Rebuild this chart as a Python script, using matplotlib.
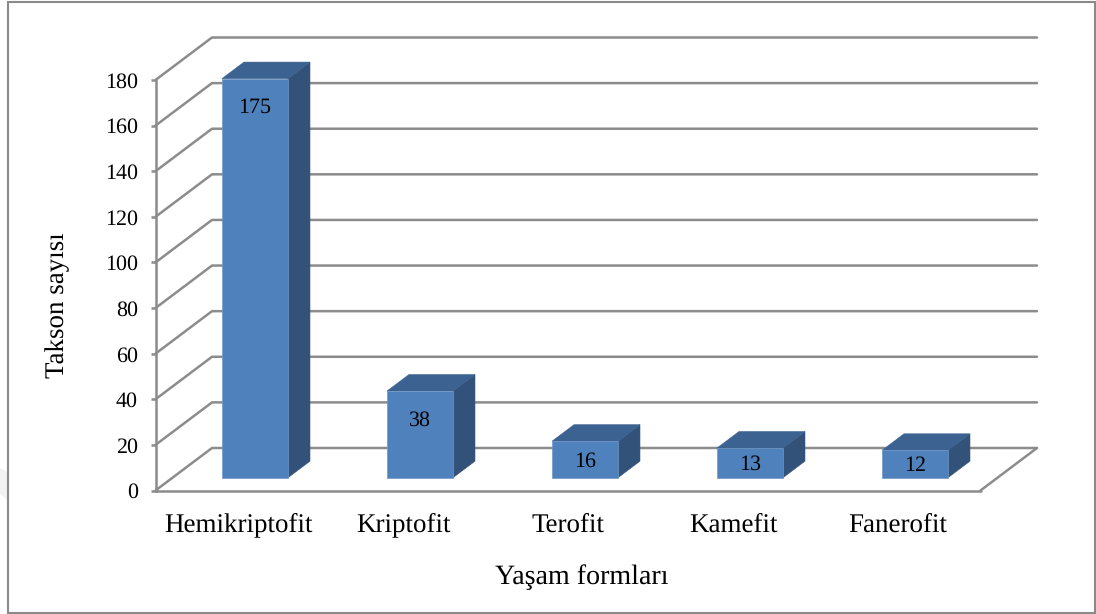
import matplotlib
matplotlib.use("Agg")
import matplotlib.pyplot as plt
from matplotlib.patches import Polygon, Rectangle

categories = ["Hemikriptofit", "Kriptofit", "Terofit", "Kamefit", "Fanerofit"]
values = [175, 38, 16, 13, 12]
y_ticks = [0, 20, 40, 60, 80, 100, 120, 140, 160, 180]
y_label = "Takson sayısı"
x_label = "Yaşam formları"

W, H = 1096, 614
FRONT, TOP, SIDE = "#4F81BD", "#3B6290", "#33527A"
EDGE = "#6F97C6"
GRID = "#8C8C8C"
plt.rcParams["font.family"] = ["Liberation Serif", "DejaVu Serif"]
plt.rcParams["text.hinting"] = "no_hinting"
plt.rcParams["text.hinting_factor"] = 1

fig = plt.figure(figsize=(W / 100, H / 100), dpi=100, facecolor="white")
# faint smudge outside the frame at the left edge of the scan
fig.add_artist(Polygon([(0, 1 - 468 / H), (7 / W, 1 - 472 / H), (7 / W, 1 - 500 / H), (0, 1 - 494 / H)],
                       transform=fig.transFigure, fc="#F2F2F2", ec="none"))
fig.add_artist(Rectangle((8 / W, 1 - 612.5 / H), (1095 - 8) / W, (612.5 - 1.5) / H, transform=fig.transFigure,
                         fill=False, ec="#8A8A8A", lw=1.5))

x0, x1, y0, y1 = 155.5, 980.5, 490.5, 80
ax = fig.add_axes([x0 / W, 1 - y0 / H, (x1 - x0) / W, (y0 - y1) / H])
ax.patch.set_alpha(0)
ax.set_xlim(-0.5, len(categories) - 0.5)
ax.set_ylim(0, 180)

# depth of the 3-D box expressed in axis units
px_x = (x1 - x0) / len(categories)
px_y = (y0 - y1) / 180
depth_x, depth_y = 56.5 / px_x, 42.5 / px_y
bar_w = 0.40
near, far = 0.30, 0.69

grid_kw = dict(color=GRID, lw=1.8, clip_on=False, solid_capstyle="round", zorder=1)
xl, xr = ax.get_xlim()
for t in y_ticks:
    ax.plot([xl, xl + depth_x, xr + depth_x], [t, t + depth_y, t + depth_y], **grid_kw)
ax.plot([xr, xr + depth_x], [0, depth_y], **grid_kw)
ax.plot([xl, xr], [0, 0], **grid_kw)

for i, v in enumerate(values):
    l = i - bar_w / 2 + near * depth_x
    r = i + bar_w / 2 + near * depth_x
    b = near * depth_y
    t = v + near * depth_y
    dx = (far - near) * depth_x
    dy = (far - near) * depth_y
    ax.add_patch(Polygon([(r, b), (r + dx, b + dy), (r + dx, t + dy), (r, t)], fc=SIDE, ec=SIDE, lw=0.4, clip_on=False, zorder=3))
    ax.add_patch(Polygon([(l, t), (r, t), (r + dx, t + dy), (l + dx, t + dy)], fc=TOP, ec=TOP, lw=0.4, clip_on=False, zorder=3))
    ax.add_patch(Rectangle((l, b), r - l, t - b, fc=FRONT, ec=EDGE, lw=0.5, clip_on=False, zorder=4))
    # label sits under the top of the face, or mid-face on short bars
    drop_px = min(29, v * px_y / 2 + 1.5)
    ax.annotate(str(v), ((l + r) / 2, t), xytext=(0, -drop_px * 0.72), textcoords="offset points",
                ha="center", va="center", fontsize=16, color="black", zorder=5, annotation_clip=False)

for s in ["top", "right", "bottom"]:
    ax.spines[s].set_visible(False)
ax.spines["left"].set_color(GRID)
ax.spines["left"].set_linewidth(1.8)
ax.set_yticks(y_ticks)
ax.set_xticks(range(len(categories)))
ax.set_xticklabels(categories)
ax.tick_params(axis="y", length=3.6, width=1.8, color=GRID, labelsize=16, pad=9)
ax.tick_params(axis="x", length=0, labelsize=19.7, pad=16)
ax.set_xlabel(x_label, fontsize=20.5, va="center")
ax.xaxis.set_label_coords((582 - x0) / (x1 - x0), (y0 - 577) / (y0 - y1))
ax.set_ylabel(y_label, fontsize=19.6, va="center")
ax.yaxis.set_label_coords((58 - x0) / (x1 - x0), (y0 - 305) / (y0 - y1))
fig.savefig("out.png", dpi=100)
